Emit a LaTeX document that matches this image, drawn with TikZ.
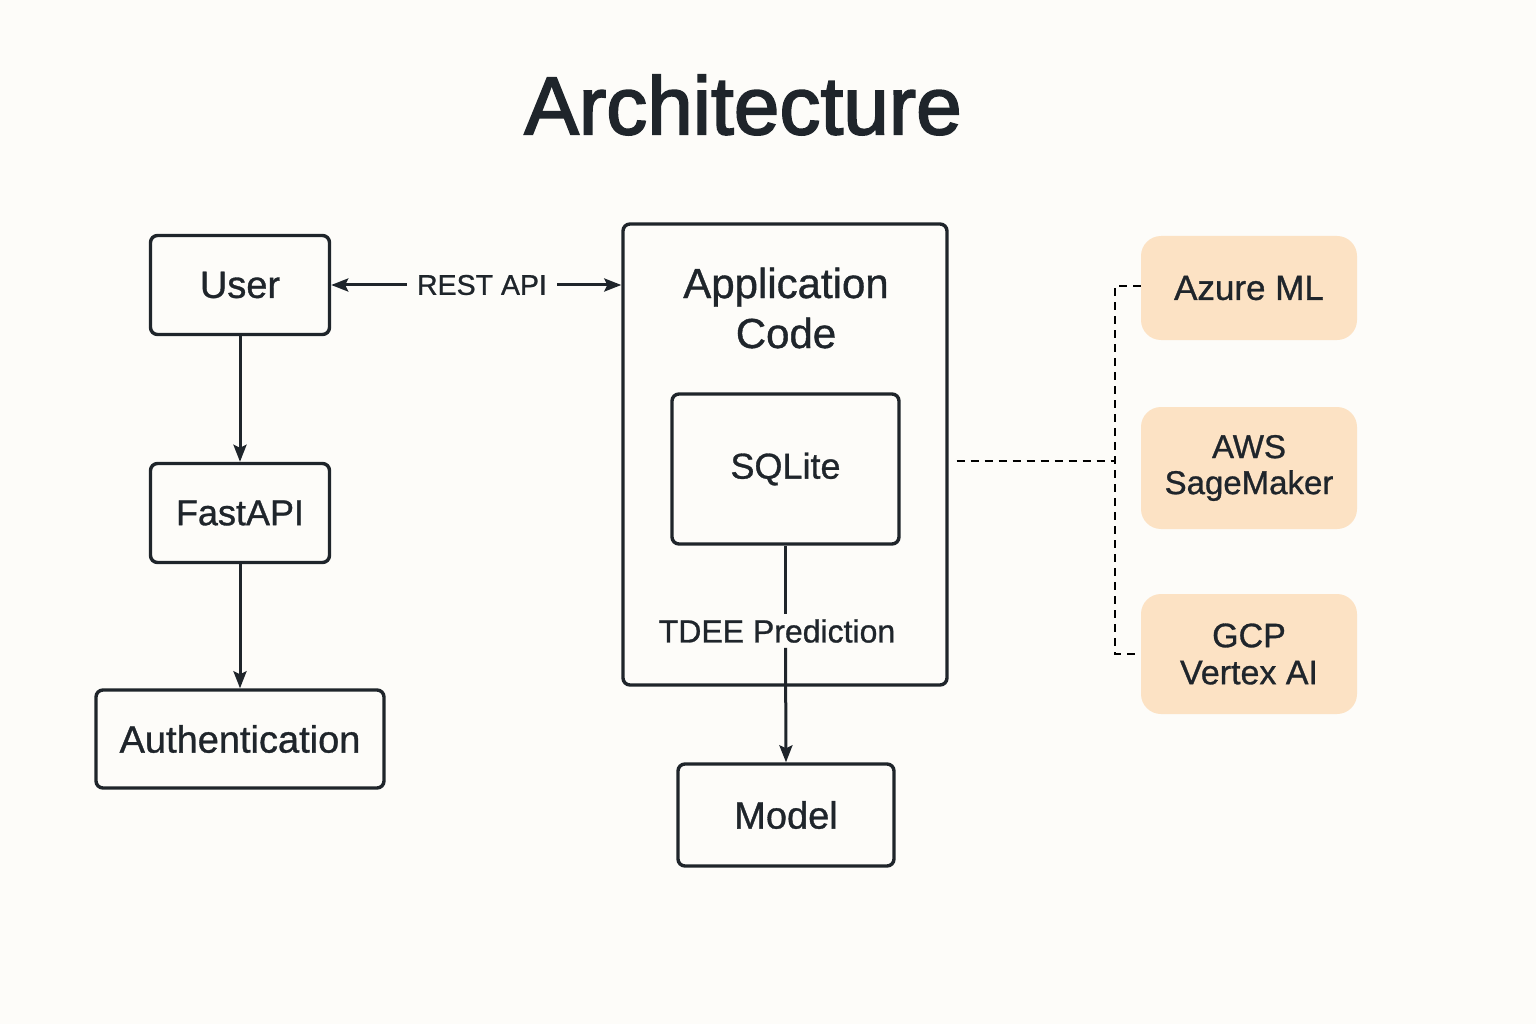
\documentclass[tikz,border=0pt]{standalone}
\usepackage{fontspec}
\setmainfont{Liberation Sans}[FakeBold=0.9]
\usetikzlibrary{arrows.meta}
\definecolor{ink}{HTML}{1F252B}
\definecolor{bg}{HTML}{FDFCF9}
\definecolor{peach}{HTML}{FCE2C4}
\tikzset{
  box/.style={draw=ink, line width=3.4pt, rounded corners=7pt, text=ink, align=center, inner sep=0pt},
  cloud/.style={fill=peach, rounded corners=20pt, text=ink, align=center, inner sep=0pt, minimum width=216pt},
  conn/.style={draw=ink, line width=3pt},
  arr/.style={conn, -{Stealth[length=17pt,width=13pt,inset=3pt]}},
  dsh/.style={draw=black, line width=2.4pt, dash pattern=on 8pt off 6pt},
  lbl/.style={text=ink, inner sep=0pt}
}
\begin{document}
\begin{tikzpicture}[x=1pt,y=-1pt]
\useasboundingbox[fill=bg] (0,0) rectangle (1536,1024);
\node[lbl, font=\fontsize{82}{90}\selectfont\addfontfeature{FakeBold=2.2}] (title) at (743,105) {Architecture};

\node[box, minimum width=179pt, minimum height=99pt, font=\fontsize{38}{44}\selectfont] (user) at (240,285) {User};
\node[box, minimum width=179pt, minimum height=99pt, font=\fontsize{36}{42}\selectfont] (fastapi) at (240,513) {FastAPI};
\node[box, minimum width=288pt, minimum height=98pt, font=\fontsize{38}{44}\selectfont] (auth) at (240,739) {Authentication};

\node[box, minimum width=324pt, minimum height=461pt] (app) at (785,454.5) {};
\node[lbl, align=center, font=\fontsize{42}{50}\selectfont] (apptxt) at (786,308) {Application\\Code};
\node[box, minimum width=227pt, minimum height=150pt, font=\fontsize{36}{42}\selectfont] (sqlite) at (785.5,469) {\raisebox{-3pt}{SQLite}};
\node[box, minimum width=216pt, minimum height=102pt, font=\fontsize{38}{44}\selectfont] (model) at (786,815) {Model};

\node[lbl, inner xsep=10pt, font=\fontsize{28.5}{34}\selectfont] (rest) at (482,285) {REST API};
\node[lbl, inner ysep=5pt, font=\fontsize{32}{38}\selectfont] (tdee) at (777,631) {TDEE Prediction};

\node[cloud, minimum height=104pt, font=\fontsize{35}{40}\selectfont] (azure) at (1249,288) {Azure ML};
\node[cloud, minimum height=122pt, font=\fontsize{33}{38}\selectfont] (aws) at (1249,468) {AWS\\[-2pt]SageMaker};
\node[cloud, minimum height=120pt, font=\fontsize{34}{39}\selectfont] (gcp) at (1249,654) {GCP\\[-2pt]Vertex AI};

\draw[arr] (user.south) -- (fastapi.north);
\draw[arr] (fastapi.south) -- (auth.north);
\draw[arr] (rest.west) -- (user.east |- rest.west);
\draw[arr] (rest.east) -- (app.west |- rest.east);
\draw[conn] (sqlite.south) -- (sqlite.south |- tdee.north);
\draw[arr] (sqlite.south |- tdee.south) -- (model.north);

\coordinate (bx) at (1115,461);
\draw[dsh, shorten <=8pt] (app.east |- bx) -- (bx);
\draw[dsh] ([yshift=2pt]azure.west) -- ([yshift=2pt]azure.west -| bx) -- (gcp.west -| bx) -- (gcp.west);
\end{tikzpicture}
\end{document}
